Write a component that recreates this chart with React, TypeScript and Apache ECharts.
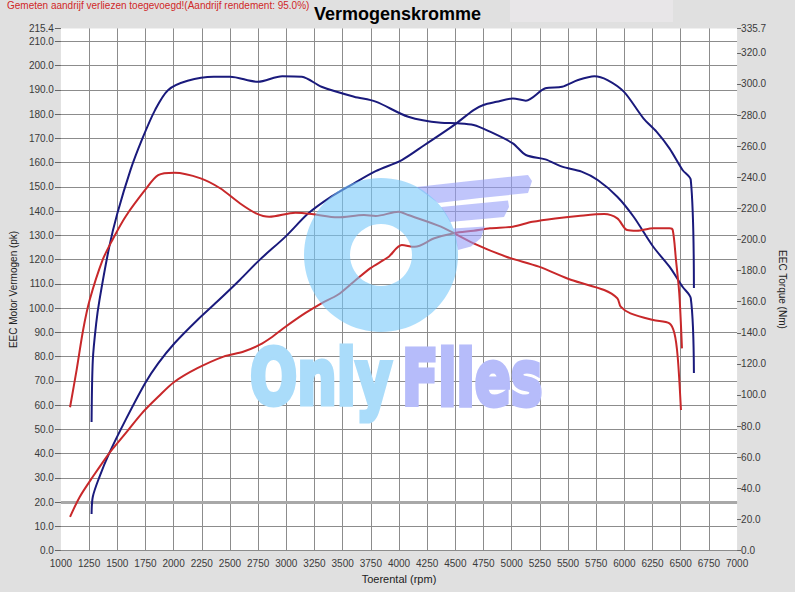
import React, { useEffect, useRef } from "react";
import * as echarts from "echarts";

// ---- Data ----
const bluePowerRpm = [1272, 1283, 1342, 1428, 1573, 1747, 1863, 2008, 2211, 2385, 2587, 2761, 2993, 3196, 3399, 3601, 3793, 4025, 4227, 4488, 4662, 4749, 4865, 5010, 5126, 5299, 5447, 5589, 5734, 5850, 5995, 6169, 6285, 6400, 6516, 6589, 6617];
const bluePowerPk = [15.1, 22.2, 30.4, 40.1, 53.8, 69.0, 77.2, 85.5, 95.1, 102.6, 111.6, 119.8, 129.5, 139.1, 146.0, 151.5, 156.5, 161.1, 167.3, 175.5, 181.7, 183.8, 185.1, 186.5, 185.6, 190.7, 191.3, 194.1, 195.7, 194.1, 189.3, 178.3, 172.8, 165.9, 157.0, 152.9, 108.3];

const blueTorqueRpm = [1272, 1283, 1313, 1342, 1428, 1501, 1617, 1718, 1834, 1950, 2124, 2356, 2500, 2747, 2964, 3138, 3312, 3601, 3793, 4082, 4372, 4517, 4662, 4807, 5010, 5126, 5299, 5447, 5620, 5763, 5937, 6082, 6256, 6400, 6516, 6589, 6617];
const blueTorqueNm = [82.6, 122.5, 146, 161, 195, 216.8, 244.6, 264, 283, 296, 302, 304.6, 304.6, 301.4, 305, 304.6, 298.2, 291.8, 288.6, 278.9, 275, 274.7, 273.6, 269.3, 261.8, 254.3, 251.5, 246.8, 243.6, 238.2, 227.5, 214.6, 195.3, 182.5, 169.6, 162.2, 114.1];

const redPowerRpm = [1081, 1168, 1283, 1428, 1573, 1718, 1863, 2008, 2211, 2443, 2617, 2761, 2877, 2993, 3167, 3312, 3457, 3601, 3747, 3862, 3909, 4025, 4140, 4314, 4488, 4662, 4807, 5010, 5184, 5386, 5589, 5821, 5937, 6024, 6111, 6256, 6400, 6429, 6458, 6487, 6511];
const redPowerPk = [13.9, 22.2, 30.4, 40.1, 48.3, 56.6, 63.4, 69.6, 75.2, 80.0, 82.0, 84.8, 88.2, 92.3, 97.9, 102.0, 105.5, 111.0, 116.5, 119.8, 121.2, 126.0, 125.3, 128.8, 130.9, 131.9, 132.9, 133.6, 135.6, 137.0, 138.0, 138.8, 137.0, 132.2, 131.9, 132.9, 132.9, 132.2, 119.8, 106.1, 83.4];

const redTorqueRpm = [1081, 1139, 1197, 1255, 1370, 1457, 1573, 1747, 1863, 2008, 2240, 2413, 2587, 2732, 2848, 3080, 3225, 3457, 3689, 3793, 3995, 4082, 4372, 4662, 4952, 5241, 5531, 5821, 5937, 5967, 6054, 6256, 6400, 6444, 6473, 6502];
const redTorqueNm = [92.1, 116, 141.8, 161, 186.8, 199.7, 214.6, 231.8, 241.4, 242.9, 239.3, 232.9, 223.3, 216.8, 214.6, 217.2, 216.4, 214.2, 215.7, 215.1, 217.8, 215.7, 208.2, 197.5, 188.9, 182.5, 173.9, 167.5, 162.2, 156.8, 152.5, 148.2, 146.1, 139.7, 124.6, 90.3];

const rpmMin = 1000;
const rpmMax = 7000;
const rpmStep = 250;
const pkMax = 215.4;
const pkStep = 10;
const nmMax = 335.7;
const nmStep = 20;
const thickGridPk = 20;

const titleText = "Vermogenskromme";
const noteText = "Gemeten aandrijf verliezen toegevoegd!(Aandrijf rendement: 95.0%)";
const xName = "Toerental (rpm)";
const yLeftName = "EEC Motor Vermogen (pk)";
const yRightName = "EEC Torque (Nm)";

const pairs = (xs: number[], ys: number[]) => xs.map((x, i) => [x, ys[i]]);

const BLUE = "#1a1a7c";
const RED = "#c8282a";
const FONT = "Liberation Sans, Arial, sans-serif";

const WM_OP = 0.6;
const WM_SKY = "rgb(118,200,250)";
const WM_LAV = "rgb(150,158,248)";
const WM_SKY_SOLID = "rgb(170,220,250)";
const WM_LAV_SOLID = "rgb(182,188,250)";

export default function App() {
  const ref = useRef<HTMLDivElement>(null);
  useEffect(() => {
    const chart = echarts.init(ref.current!, null, { renderer: "svg" });
    const lineSeries = (name: string, data: number[][], color: string, yAxisIndex: number, extra: any = {}) => ({
      name,
      type: "line",
      data,
      yAxisIndex,
      smooth: 0.3,
      showSymbol: false,
      symbol: "none",
      lineStyle: { color, width: 2 },
      itemStyle: { color },
      silent: true,
      z: 3,
      ...extra,
    });
    chart.setOption({
      animation: false,
      backgroundColor: "#e0e0e0",
      textStyle: { fontFamily: FONT },
      title: {
        text: titleText,
        left: "center",
        top: 0,
        textStyle: { fontSize: 18, fontWeight: "bold", color: "#000", fontFamily: FONT },
      },
      grid: {
        left: 48.7,
        top: 28.4,
        width: 690.3,
        height: 522.1,
        show: true,
        backgroundColor: "#ffffff",
        borderWidth: 0,
      },
      xAxis: {
        type: "value",
        min: rpmMin,
        max: rpmMax,
        interval: rpmStep,
        axisLine: { show: false },
        axisTick: { show: false },
        splitLine: { show: true, showMinLine: false, showMaxLine: false, lineStyle: { color: "#8c8c8c", width: 1 } },
        axisLabel: {
          fontSize: 10,
          color: "#3a3a3a",
          margin: 8,
          fontFamily: FONT,
          showMinLabel: true,
          showMaxLabel: true,
          formatter: (v: number) => String(v),
        },
        name: xName,
        nameLocation: "middle",
        nameGap: 22,
        nameTextStyle: { fontSize: 11, color: "#222", fontFamily: FONT },
      },
      yAxis: [
        {
          type: "value",
          min: 0,
          max: pkMax,
          interval: pkStep,
          position: "left",
          axisLine: { show: false },
          axisTick: { show: true, length: 6, lineStyle: { color: "#666" } },
          splitLine: { show: true, showMaxLine: false, lineStyle: { color: "#8c8c8c", width: 1 } },
          axisLabel: { fontSize: 10, color: "#3a3a3a", margin: 7, fontFamily: FONT, formatter: (v: number) => v.toFixed(1) },
          name: yLeftName,
          nameLocation: "middle",
          nameGap: 36,
          nameTextStyle: { fontSize: 10, color: "#222", fontFamily: FONT },
        },
        {
          type: "value",
          min: 0,
          max: nmMax,
          interval: nmStep,
          position: "right",
          axisLine: { show: false },
          axisTick: { show: true, length: 4, lineStyle: { color: "#666" } },
          splitLine: { show: false },
          axisLabel: { fontSize: 10, color: "#3a3a3a", margin: 4, fontFamily: FONT, formatter: (v: number) => v.toFixed(1) },
          name: yRightName,
          nameLocation: "middle",
          nameGap: 35,
          nameRotate: -90,
          nameTextStyle: { fontSize: 10, color: "#222", fontFamily: FONT },
        },
      ],
      series: [
        lineSeries("Vermogen (getuned)", pairs(bluePowerRpm, bluePowerPk), BLUE, 0, {
          markLine: {
            silent: true,
            symbol: "none",
            label: { show: false },
            lineStyle: { color: "#a8a8a8", width: 3, type: "solid" },
            data: [{ yAxis: thickGridPk }],
            z: 1,
          },
        }),
        lineSeries("Koppel (getuned)", pairs(blueTorqueRpm, blueTorqueNm), BLUE, 1),
        lineSeries("Vermogen (origineel)", pairs(redPowerRpm, redPowerPk), RED, 0),
        lineSeries("Koppel (origineel)", pairs(redTorqueRpm, redTorqueNm), RED, 1),
      ],
      graphic: [
        { type: "rect", z: -1, shape: { x: 510, y: 0, width: 163, height: 22 }, style: { fill: "#e8e6e8" } },
        {
          type: "text",
          x: 7,
          y: 5,
          style: { text: noteText, fill: "#d02828", fontSize: 10, fontFamily: FONT, verticalAlign: "middle", align: "left" },
        },
        // watermark wings
        { type: "polygon", z: 100, shape: { points: [[416, 187], [470, 181], [528, 175], [532, 181], [528, 193], [480, 198], [438, 203]] }, style: { fill: WM_LAV, opacity: WM_OP } },
        { type: "polygon", z: 100, shape: { points: [[441, 207], [508, 200.5], [509, 207], [504, 217], [450, 222]] }, style: { fill: WM_LAV, opacity: WM_OP } },
        { type: "polygon", z: 100, shape: { points: [[453, 228.5], [485, 226.5], [481, 238], [471, 246.5], [458, 250]] }, style: { fill: WM_LAV, opacity: WM_OP } },
        { type: "ring", z: 101, shape: { cx: 381, cy: 255, r: 77, r0: 31 }, style: { fill: WM_SKY, opacity: WM_OP } },
        {
          type: "text",
          z: 1,
          x: 250,
          y: 416,
          scaleX: 0.73,
          style: { text: "Only", fill: WM_SKY_SOLID, stroke: WM_SKY_SOLID, lineWidth: 5, fontSize: 76, fontWeight: "bold", fontFamily: "DejaVu Sans", align: "left", verticalAlign: "bottom" },
        },
        {
          type: "text",
          z: 1,
          x: 402,
          y: 416,
          scaleX: 0.7,
          style: { text: "Files", fill: WM_LAV_SOLID, stroke: WM_LAV_SOLID, lineWidth: 5, fontSize: 76, fontWeight: "bold", fontFamily: "DejaVu Sans", align: "left", verticalAlign: "bottom" },
        },
      ],
    });
    return () => chart.dispose();
  }, []);
  return <div ref={ref} style={{ position: "fixed", left: 0, top: 0, width: 795, height: 592 }} />;
}
